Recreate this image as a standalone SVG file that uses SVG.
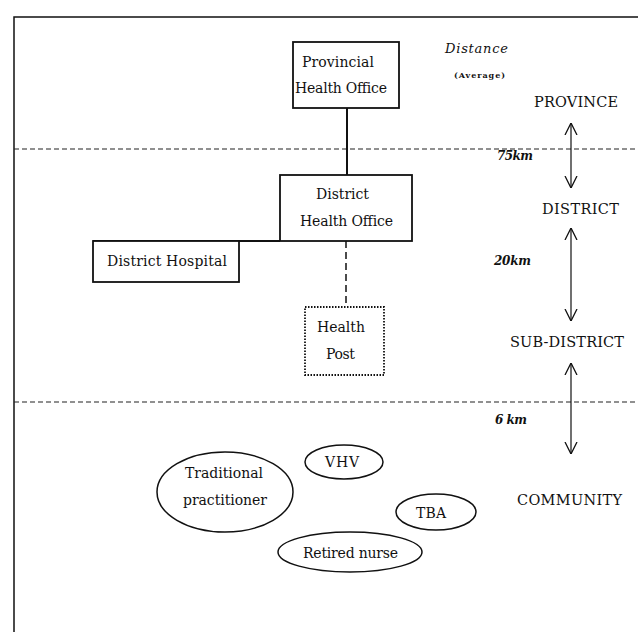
<svg xmlns="http://www.w3.org/2000/svg" width="638" height="632" viewBox="0 0 638 632">
<style>
text{font-family:"DejaVu Serif","Liberation Serif",serif;fill:#111;}
.t{font-size:14px;}
.lv{font-size:14.5px;}
.km{font-size:12px;font-style:italic;font-weight:bold;}
.box{fill:#fff;stroke:#111;stroke-width:1.8;}
.ell{fill:#fff;stroke:#111;stroke-width:1.5;}
.dash{fill:none;stroke:#222;stroke-width:1.2;stroke-dasharray:5 3;}
.arr{fill:none;stroke:#111;stroke-width:1.2;}
</style>
<defs>
<marker id="ah" viewBox="0 0 12 14" refX="12" refY="7" markerWidth="12" markerHeight="14" markerUnits="userSpaceOnUse" orient="auto-start-reverse">
<path d="M0,1 L12,7 L0,13" fill="none" stroke="#111" stroke-width="1.3"/>
</marker>
</defs>
<g id="frame">
<path d="M14,632 V17 H638" fill="none" stroke="#111" stroke-width="1.5"/>
<line class="dash" x1="14" y1="149" x2="638" y2="149"/>
<line class="dash" x1="14" y1="402" x2="638" y2="402"/>
</g>
<g id="connectors">
<line x1="347" y1="108" x2="347" y2="175" stroke="#111" stroke-width="2"/>
<line x1="93" y1="241" x2="280" y2="241" stroke="#111" stroke-width="1.8"/>
<line x1="346" y1="241" x2="346" y2="307" stroke="#111" stroke-width="1.5" stroke-dasharray="7 4"/>
<line class="arr" x1="571" y1="123" x2="571" y2="188" marker-start="url(#ah)" marker-end="url(#ah)"/>
<line class="arr" x1="571" y1="228" x2="571" y2="321" marker-start="url(#ah)" marker-end="url(#ah)"/>
<line class="arr" x1="571" y1="363" x2="571" y2="454" marker-start="url(#ah)" marker-end="url(#ah)"/>
</g>
<g id="provincial">
<rect class="box" x="293" y="42" width="106" height="66"/>
<text class="t" x="302" y="67" textLength="72">Provincial</text>
<text class="t" x="295" y="93" textLength="92">Health Office</text>
</g>
<g id="district-office">
<rect class="box" x="280" y="175" width="132" height="66"/>
<text class="t" x="316" y="199" textLength="53">District</text>
<text class="t" x="300" y="226" textLength="93">Health Office</text>
</g>
<g id="district-hospital">
<rect class="box" x="93" y="241" width="146" height="41"/>
<text class="t" x="107" y="266" textLength="120">District Hospital</text>
</g>
<g id="health-post">
<rect x="305" y="307" width="79" height="68" fill="#fff" stroke="#111" stroke-width="1.8" stroke-dasharray="1.5 1.5"/>
<text class="t" x="317" y="332" textLength="48">Health</text>
<text class="t" x="326" y="359" textLength="29">Post</text>
</g>
<g id="distance-label">
<text x="445" y="53" font-size="13" font-style="italic" textLength="63">Distance</text>
<text x="454" y="78" font-size="8" font-weight="bold" textLength="51">(Average)</text>
</g>
<g id="levels">
<text class="lv" x="534" y="107" textLength="84">PROVINCE</text>
<text class="lv" x="542" y="214" textLength="77">DISTRICT</text>
<text class="lv" x="510" y="347" textLength="114">SUB-DISTRICT</text>
<text class="lv" x="517" y="505" textLength="105">COMMUNITY</text>
<text class="km" x="497" y="160" textLength="36">75km</text>
<text class="km" x="494" y="265" textLength="37">20km</text>
<text class="km" x="495" y="424" textLength="32">6 km</text>
</g>
<g id="traditional">
<ellipse class="ell" cx="225" cy="492" rx="68" ry="40"/>
<text class="t" x="185" y="478" textLength="78">Traditional</text>
<text class="t" x="183" y="505" textLength="84">practitioner</text>
</g>
<g id="vhv">
<ellipse class="ell" cx="344" cy="462" rx="39" ry="17"/>
<text class="t" x="325" y="467" textLength="34">VHV</text>
</g>
<g id="tba">
<ellipse class="ell" cx="436" cy="512" rx="40" ry="18"/>
<text class="t" x="416" y="518" textLength="30">TBA</text>
</g>
<g id="retired-nurse">
<ellipse class="ell" cx="350" cy="552" rx="72" ry="20"/>
<text class="t" x="303" y="558" textLength="95">Retired nurse</text>
</g>
</svg>
